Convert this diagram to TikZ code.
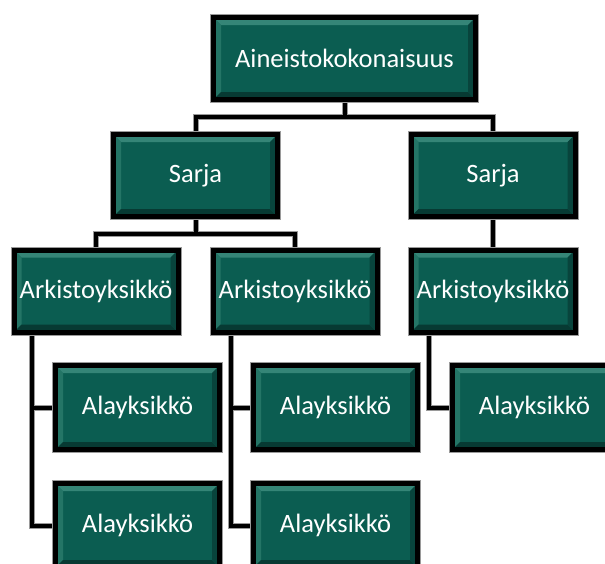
\documentclass[tikz,border=0pt]{standalone}
\usepackage{fontspec}
\setmainfont{Carlito}
\usetikzlibrary{backgrounds}
\definecolor{boxfill}{HTML}{0B5D51}
\definecolor{bevT}{HTML}{358577}
\definecolor{bevL}{HTML}{247566}
\definecolor{bevB}{HTML}{073A33}
\definecolor{bevR}{HTML}{08443C}
\definecolor{rim}{HTML}{9A9A9A}
\newcommand\myconnectors[1]{%
\draw[#1] (top.south) -- ++(0,15) -| (s1.north);
\draw[#1] (top.south) -- ++(0,15) -| (s2.north);
\draw[#1] (s1.south) -- ++(0,14.5) -| (a1.north);
\draw[#1] (s1.south) -- ++(0,14.5) -| (a2.north);
\draw[#1] (s2.south) -- (a3.north);
\draw[#1] ([xshift=20pt]a1.south west) |- (l1.west);
\draw[#1] ([xshift=20pt]a1.south west) |- (l2.west);
\draw[#1] ([xshift=20pt]a2.south west) |- (l3.west);
\draw[#1] ([xshift=20pt]a2.south west) |- (l4.west);
\draw[#1] ([xshift=20pt]a3.south west) |- (l5.west);
}
\begin{document}
\begin{tikzpicture}[x=1pt,y=-1pt,
  box/.style={draw=black, line width=5pt, fill=boxfill, text=white, inner sep=0pt,
    font=\fontsize{26.5}{30}\selectfont,
    preaction={draw=rim, line width=7pt},
    path picture={
      \fill[bevT] (path picture bounding box.north west) -- (path picture bounding box.north east)
        -- ([shift={(-7.5pt,-7.5pt)}]path picture bounding box.north east)
        -- ([shift={(7.5pt,-7.5pt)}]path picture bounding box.north west) -- cycle;
      \fill[bevL] (path picture bounding box.north west) -- (path picture bounding box.south west)
        -- ([shift={(7.5pt,7.5pt)}]path picture bounding box.south west)
        -- ([shift={(7.5pt,-7.5pt)}]path picture bounding box.north west) -- cycle;
      \fill[bevB] (path picture bounding box.south west) -- (path picture bounding box.south east)
        -- ([shift={(-7.5pt,7.5pt)}]path picture bounding box.south east)
        -- ([shift={(7.5pt,7.5pt)}]path picture bounding box.south west) -- cycle;
      \fill[bevR] (path picture bounding box.north east) -- (path picture bounding box.south east)
        -- ([shift={(-7.5pt,7.5pt)}]path picture bounding box.south east)
        -- ([shift={(-7.5pt,-7.5pt)}]path picture bounding box.north east) -- cycle;
    }},
  topbox/.style={box, minimum width=262pt, minimum height=82pt},
  lvbox/.style={box, minimum width=164pt, minimum height=82pt},
  subbox/.style={box, minimum width=164pt, minimum height=84pt},
  connrim/.style={draw=rim, line width=6pt},
  conn/.style={draw=black, line width=4pt}
]
\clip (0,0) rectangle (605,563);

\node[topbox] (top) at (344.5,58.5) {Aineistokokonaisuus};

\node[lvbox] (s1) at (195.5,175.5) {Sarja};
\node[lvbox] (s2) at (493,175.5) {Sarja};

\node[lvbox] (a1) at (96,291) {Arkistoyksikkö};
\node[lvbox] (a2) at (295,291) {Arkistoyksikkö};
\node[lvbox] (a3) at (493,291) {Arkistoyksikkö};

\node[subbox] (l1) at (137.5,407.5) {Alayksikkö};
\node[subbox] (l2) at (137.5,525.5) {Alayksikkö};
\node[subbox] (l3) at (335.5,407.5) {Alayksikkö};
\node[subbox] (l4) at (335.5,525.5) {Alayksikkö};
\node[subbox] (l5) at (534.5,407.5) {Alayksikkö};

\begin{scope}[on background layer]
\fill[white] (0,0) rectangle (605,563);
\myconnectors{connrim}
\myconnectors{conn}
\end{scope}
\end{tikzpicture}
\end{document}
